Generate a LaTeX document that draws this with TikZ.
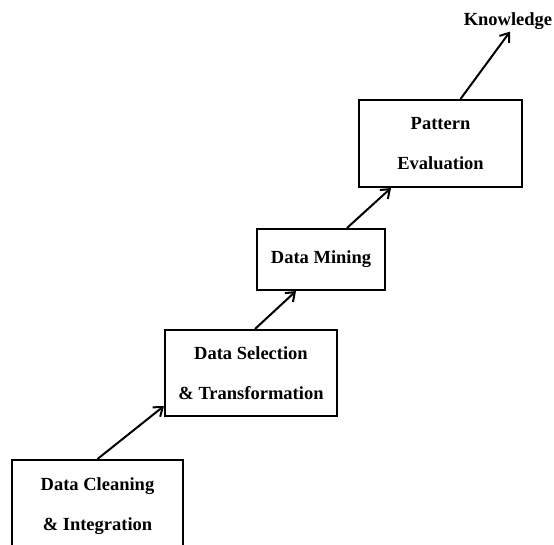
\documentclass[tikz,border=0pt]{standalone}
\usepackage{fontspec}
\setmainfont{Liberation Serif}
\usepackage{tikz}
\usetikzlibrary{positioning,arrows.meta}

\begin{document}
\begin{tikzpicture}[x=1pt, y=1pt,
  stage/.style={draw, line width=2pt, align=center, inner sep=0pt,
    font=\fontsize{18.5}{40}\selectfont\bfseries},
  flow/.style={-{Straight Barb[length=8pt,width=12pt,line width=2pt]}, line width=2pt},
  outlbl/.style={font=\fontsize{18.5}{22}\selectfont\bfseries, inner sep=2pt}]
\useasboundingbox (0,0) rectangle (554,545);
\node[stage, minimum width=171pt, minimum height=92pt] (clean) at (97.5,39) {Data Cleaning\\ \& Integration};
\node[stage, minimum width=172pt, minimum height=86pt] (select) at (251,172) {Data Selection\\ \& Transformation};
\node[stage, minimum width=128pt, minimum height=61pt] (mine) at (321,285.5) {Data Mining};
\node[stage, minimum width=163pt, minimum height=87pt] (eval) at (440.5,401.5) {Pattern\\ Evaluation};
\node[outlbl] (know) at (508,524) {Knowledge};
\draw[flow] (clean.north) -- ([yshift=11pt]select.south west);
\draw[flow] ([xshift=4pt]select.north) -- ([xshift=40pt]mine.south west);
\draw[flow] ([xshift=26pt]mine.north) -- ([xshift=33pt]eval.south west);
\draw[flow] ([xshift=20pt]eval.north) -- ([xshift=2pt]know.south);
\end{tikzpicture}
\end{document}
